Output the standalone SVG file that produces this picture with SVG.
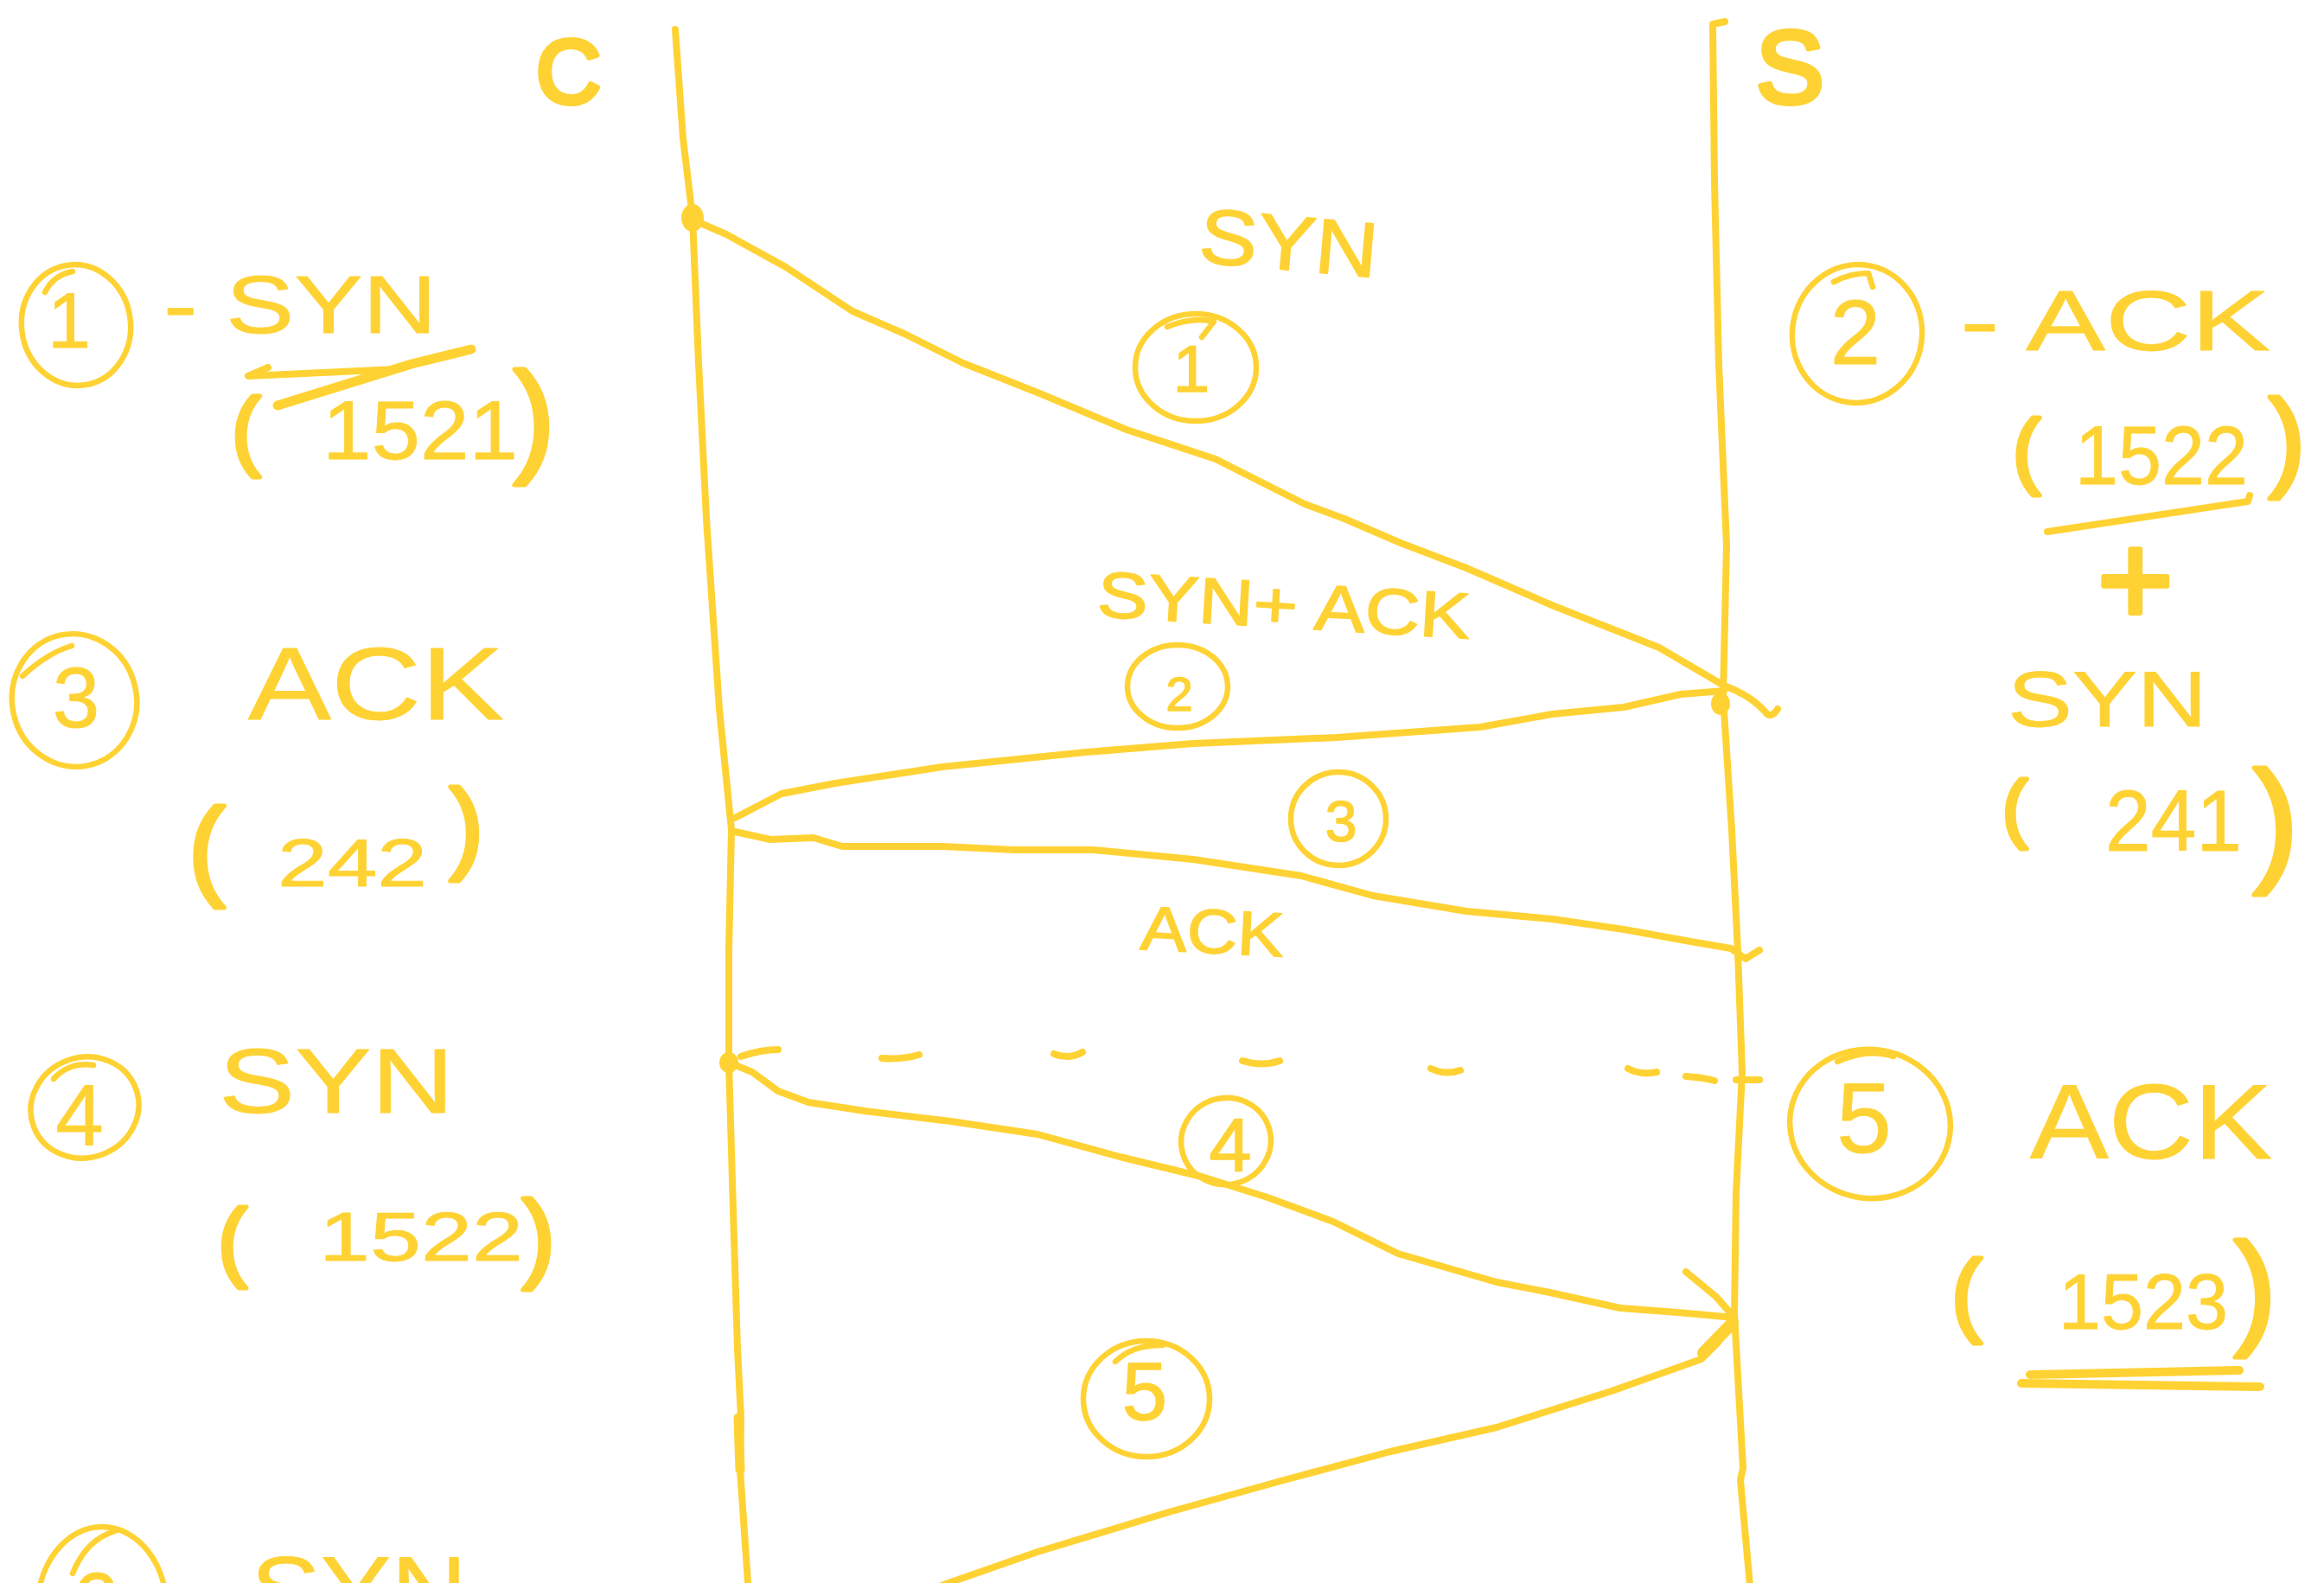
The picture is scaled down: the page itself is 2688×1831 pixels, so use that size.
<svg xmlns="http://www.w3.org/2000/svg" width="2688" height="1831" viewBox="0 0 2688 1831">
  <style>
    .ink{fill:none;stroke:#FFD234;stroke-width:8;stroke-linecap:round;stroke-linejoin:round}
    .heavy{stroke-width:14}
    .ring{fill:none;stroke:#FFD234;stroke-width:6.5;stroke-linecap:round;stroke-linejoin:round}
    .dot{fill:#FFD234}
    .hand{font-family:"Liberation Sans","DejaVu Sans",sans-serif;fill:#FFD234;stroke:#FFD234;stroke-width:0.8;stroke-linejoin:round}
    .small{stroke-width:1.6}
    .thick{stroke-width:6}
    .paren{stroke-width:5}
    .num{text-anchor:middle}
  </style>
  <rect width="2688" height="1831" fill="#ffffff"/>

  <!-- client lifeline -->
  <g id="client">
    <text class="hand thick" x="620" y="119" font-size="104">C</text>
    <path class="ink" d="M781,34 L790,160 L801,251 L808,420 L817,600 L832,820 L846,960 L843,1100 L843,1229 L848,1400 L853,1560 L857,1640 L856,1700 L866,1845"/>
    <path class="ink" style="stroke-width:11" d="M854,1640 L856,1700"/>
  </g>

  <!-- server lifeline -->
  <g id="server">
    <text class="hand thick" x="2031" y="119" font-size="118">S</text>
    <path class="ink" d="M1995,25 L1981,28 L1983,210 L1988,421 L1997,631 L1993,807 L2003,960 L2010,1100 L2015,1240 L2008,1380 L2006,1520 L2016,1698 L2013,1712 L2025,1845"/>
  </g>

  <!-- message exchange -->
  <g id="connectors">
    <!-- 1: SYN client -> server -->
    <ellipse class="dot" cx="801" cy="252" rx="13" ry="16"/>
    <path class="ink" d="M801,254 L840,271 L909,309 L986,360 L1046,386 L1114,420 L1200,454 L1303,497 L1406,531 L1509,583 L1555,600 L1620,628 L1696,657 L1795,700 L1919,749 L1994,793 Q2027,805 2044,826 Q2050,830 2056,820"/>
    <!-- 2: SYN+ACK server -> client -->
    <ellipse class="dot" cx="1990" cy="814" rx="11" ry="13"/>
    <path class="ink" d="M1994,799 L1944,803 L1878,818 L1795,826 L1712,841 L1546,853 L1380,860 L1256,870 L1090,887 L966,906 L904,918 L850,946"/>
    <!-- 3: ACK client -> server -->
    <path class="ink" d="M850,962 L891,971 L941,969 L974,979 L1090,979 L1173,983 L1264,983 L1380,994 L1505,1013 L1588,1036 L1696,1054 L1795,1063 L1878,1075 L1961,1090 L2002,1097 L2019,1109 L2035,1099"/>
    <!-- dashed marker between the handshakes -->
    <ellipse class="dot" cx="843" cy="1229" rx="11" ry="12"/>
    <path class="ink" d="M857,1222 Q880,1214 900,1214"/>
    <path class="ink" d="M1020,1224 Q1042,1226 1063,1220"/>
    <path class="ink" d="M1219,1219 Q1236,1226 1252,1217"/>
    <path class="ink" d="M1437,1227 Q1460,1234 1480,1227"/>
    <path class="ink" d="M1655,1236 Q1672,1244 1689,1238"/>
    <path class="ink" d="M1883,1236 Q1898,1244 1916,1240"/>
    <path class="ink" d="M1950,1245 Q1968,1246 1983,1250"/>
    <path class="ink" d="M2008,1249 L2035,1249"/>
    <!-- 4: SYN client -> server -->
    <path class="ink" d="M843,1229 L870,1240 L900,1262 L935,1275 L1000,1285 L1100,1297 L1200,1312 L1295,1338 L1390,1361 L1466,1385 L1542,1413 L1617,1450 L1731,1483 L1788,1494 L1874,1513 L1940,1518 L2006,1524"/>
    <path class="ink" d="M1950,1471 L1985,1500 L2006,1524"/>
    <!-- 5: ACK server -> client -->
    <path class="ink" d="M2004,1529 L1987,1553 L1968,1572 L1864,1609 L1731,1651 L1608,1679 L1485,1712 L1352,1749 L1200,1795 L1097,1831 L1060,1845"/>
    <path class="ink heavy" d="M2004,1530 L1970,1565"/>
  </g>

  <!-- labels on the arrows -->
  <g id="label-syn">
    <text class="hand small" x="1385" y="303" font-size="90" textLength="207" lengthAdjust="spacingAndGlyphs" transform="rotate(5 1385 303)">SYN</text>
    <ellipse class="ring" cx="1383" cy="425" rx="70" ry="62"/>
    <path class="ring" d="M1350,378 Q1380,366 1404,372 L1390,390"/>
    <text class="hand small num" x="1378" y="453" font-size="76">1</text>
  </g>
  <g id="label-synack">
    <text class="hand small" x="1268" y="713" font-size="75" textLength="432" lengthAdjust="spacingAndGlyphs" transform="rotate(3.4 1268 713)">SYN+ ACK</text>
    <ellipse class="ring" cx="1362" cy="794" rx="58" ry="48"/>
    <text class="hand small num" x="1364" y="822" font-size="56">2</text>
  </g>
  <g id="label-ack">
    <ellipse class="ring" cx="1548" cy="947" rx="55" ry="54"/>
    <text class="hand small num" x="1551" y="973" font-size="66">3</text>
    <text class="hand small" x="1318" y="1098" font-size="72" textLength="166" lengthAdjust="spacingAndGlyphs" transform="rotate(3 1318 1098)">ACK</text>
  </g>
  <g id="label-syn2">
    <ellipse class="ring" cx="1418" cy="1320" rx="52" ry="50" transform="rotate(-15 1418 1320)"/>
    <text class="hand small num" x="1423" y="1355" font-size="88">4</text>
  </g>
  <g id="label-ack2">
    <ellipse class="ring" cx="1326" cy="1618" rx="73" ry="67"/>
    <path class="ring" d="M1290,1575 Q1310,1555 1345,1556"/>
    <text class="hand small num" x="1324" y="1642" font-size="94">5</text>
  </g>

  <!-- client side notes -->
  <g id="note-1">
    <ellipse class="ring" cx="88" cy="376" rx="63" ry="70" transform="rotate(-8 88 376)"/>
    <path class="ring" d="M52,338 Q62,318 84,314"/>
    <text class="hand num" x="80" y="402" font-size="90">1</text>
    <text class="hand" x="189" y="385" font-size="95" textLength="316" lengthAdjust="spacingAndGlyphs">- SYN</text>
    <path class="ink" d="M310,425 L287,435 L459,427 L480,421"/>
    <path class="ink" style="stroke-width:11" d="M321,469 L476,421 L545,404"/>
    <text class="hand"><tspan class="paren" x="268" y="531" font-size="100">(</tspan><tspan x="373" y="531" font-size="97" textLength="226" lengthAdjust="spacingAndGlyphs">1521</tspan><tspan class="paren" x="594" y="531" font-size="143">)</tspan></text>
  </g>
  <g id="note-3">
    <ellipse class="ring" cx="86" cy="810" rx="72" ry="77" transform="rotate(-12 86 810)"/>
    <path class="ring" d="M26,782 Q55,755 83,747"/>
    <text class="hand num" x="88" y="841" font-size="98">3</text>
    <text class="hand" x="287" y="832" font-size="118" textLength="296" lengthAdjust="spacingAndGlyphs">ACK</text>
    <text class="hand"><tspan class="paren" x="218" y="1024" font-size="127">(</tspan><tspan x="321" y="1025" font-size="78" textLength="173" lengthAdjust="spacingAndGlyphs">242</tspan><tspan class="paren" x="520" y="995" font-size="117">)</tspan></text>
  </g>
  <g id="note-4">
    <ellipse class="ring" cx="98" cy="1281" rx="63" ry="58" transform="rotate(-20 98 1281)"/>
    <path class="ring" d="M62,1248 Q80,1228 108,1232"/>
    <text class="hand num" x="92" y="1325" font-size="100">4</text>
    <text class="hand" x="253" y="1287" font-size="105" textLength="272" lengthAdjust="spacingAndGlyphs">SYN</text>
    <text class="hand"><tspan class="paren" x="252" y="1469" font-size="101">(</tspan><tspan x="369" y="1458" font-size="80" textLength="236" lengthAdjust="spacingAndGlyphs">1522</tspan><tspan class="paren" x="604" y="1468" font-size="114">)</tspan></text>
  </g>
  <g id="note-6">
    <ellipse class="ring" cx="118" cy="1862" rx="75" ry="96"/>
    <path class="ring" d="M84,1820 Q100,1780 135,1770"/>
    <text class="hand num" x="110" y="1889" font-size="100">6</text>
    <text class="hand" x="290" y="1877" font-size="110" textLength="250" lengthAdjust="spacingAndGlyphs">SYN</text>
  </g>

  <!-- server side notes -->
  <g id="note-2">
    <ellipse class="ring" cx="2148" cy="386" rx="75" ry="80" transform="rotate(8 2148 386)"/>
    <path class="ring" d="M2121,326 Q2140,316 2161,316 L2166,332"/>
    <text class="hand num" x="2146" y="421" font-size="105">2</text>
    <text class="hand" x="2267" y="405" font-size="98" textLength="359" lengthAdjust="spacingAndGlyphs">- ACK</text>
    <text class="hand"><tspan class="paren" x="2328" y="553" font-size="96">(</tspan><tspan x="2400" y="560" font-size="97" textLength="200" lengthAdjust="spacingAndGlyphs">1522</tspan><tspan class="paren" x="2624" y="551" font-size="127">)</tspan></text>
    <path class="ink" d="M2368,615 L2600,580 L2602,573"/>
    <text class="hand thick" x="2426" y="722" font-size="150">+</text>
    <text class="hand" x="2322" y="840" font-size="90" textLength="231" lengthAdjust="spacingAndGlyphs">SYN</text>
    <text class="hand"><tspan class="paren" x="2316" y="964" font-size="87">(</tspan><tspan x="2435" y="984" font-size="100" textLength="158" lengthAdjust="spacingAndGlyphs">241</tspan><tspan class="paren" x="2606" y="1002" font-size="157">)</tspan></text>
  </g>
  <g id="note-5">
    <ellipse class="ring" cx="2163" cy="1300" rx="93" ry="86" transform="rotate(8 2163 1300)"/>
    <path class="ring" d="M2125,1228 Q2160,1212 2190,1222"/>
    <text class="hand num" x="2156" y="1333" font-size="115">5</text>
    <text class="hand" x="2348" y="1340" font-size="122" textLength="280" lengthAdjust="spacingAndGlyphs">ACK</text>
    <text class="hand"><tspan class="paren" x="2257" y="1532" font-size="106">(</tspan><tspan x="2381" y="1537" font-size="90" textLength="196" lengthAdjust="spacingAndGlyphs">1523</tspan><tspan class="paren" x="2584" y="1540" font-size="146">)</tspan></text>
    <path class="ink" style="stroke-width:10" d="M2348,1590 L2590,1585"/>
    <path class="ink" style="stroke-width:10" d="M2338,1600 L2614,1604"/>
  </g>
</svg>
